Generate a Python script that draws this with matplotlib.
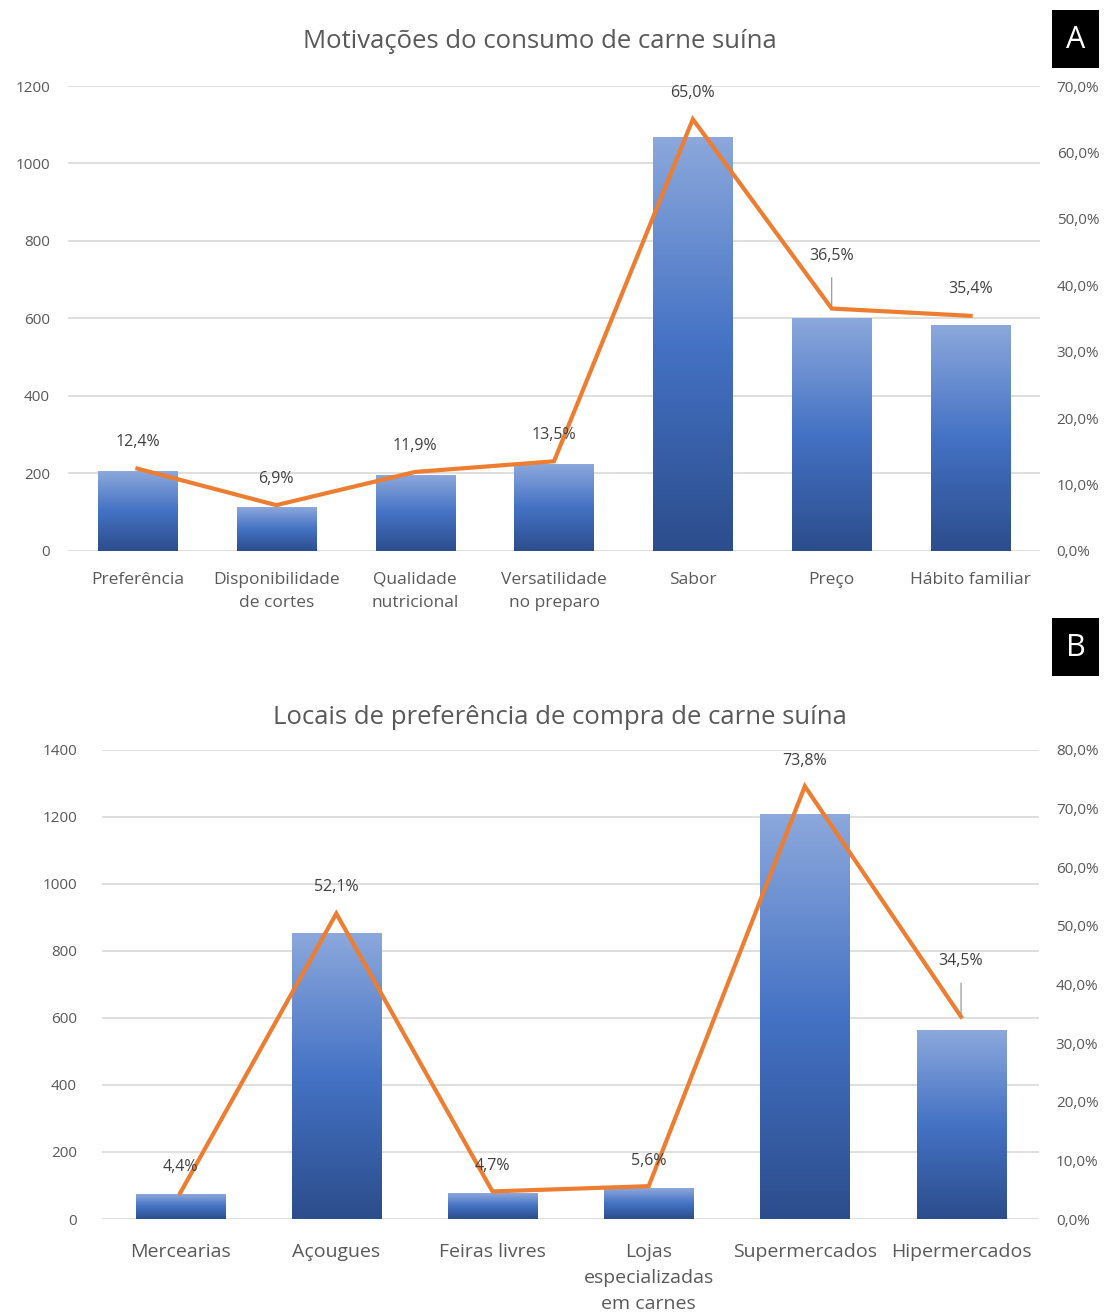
import numpy as np
import matplotlib
matplotlib.use("Agg")
import matplotlib.pyplot as plt
from matplotlib.colors import LinearSegmentedColormap

plt.rcParams['font.family'] = ['Open Sans', 'DejaVu Sans']

# --- data: painel A (motivações) ---
mot_cats = ["Preferência", "Disponibilidade\nde cortes", "Qualidade\nnutricional",
            "Versatilidade\nno preparo", "Sabor", "Preço", "Hábito familiar"]
mot_n = [204, 113, 196, 222, 1068, 600, 582]
mot_pct = [12.4, 6.9, 11.9, 13.5, 65.0, 36.5, 35.4]

# --- data: painel B (locais de compra) ---
loc_cats = ["Mercearias", "Açougues", "Feiras livres",
            "Lojas\nespecializadas\nem carnes", "Supermercados", "Hipermercados"]
loc_n = [72, 851, 77, 92, 1206, 564]
loc_pct = [4.4, 52.1, 4.7, 5.6, 73.8, 34.5]

# label offsets (points above the line); larger ones get a leader line
mot_off = [19, 19, 19, 19, 19, 38, 19]
loc_off = [19, 19, 18, 18, 18, 40]

GREY = "#595959"
ORANGE = "#ED7D31"
bar_cmap = LinearSegmentedColormap.from_list("excel_blue", ["#2c4d8c", "#4472c4", "#8ca8dc"])


def fmt_pct(v):
    return ("%.1f%%" % v).replace(".", ",")


def panel(ax, cats, counts, pcts, offs, ymax, ystep, pmax, cat_size, pad_l, pad_x):
    x = np.arange(len(cats))
    w = 0.57
    grad = np.linspace(1, 0, 256).reshape(-1, 1)
    for xi, h in zip(x, counts):
        ax.imshow(grad, extent=(xi - w / 2, xi + w / 2, 0, h), aspect='auto',
                  cmap=bar_cmap, vmin=0, vmax=1, origin='upper', zorder=2)
    ax.set_xlim(-0.5, len(cats) - 0.5)
    ax.set_ylim(0, ymax)
    ax.set_yticks(np.arange(0, ymax + 1, ystep))
    ax.yaxis.grid(True, color="#d9d9d9", lw=1.2)
    ax.set_axisbelow(True)
    ax.set_xticks(x)
    ax.set_xticklabels(cats, fontsize=cat_size, color=GREY, linespacing=1.6)
    ax.tick_params(axis='x', length=0, pad=pad_x)
    ax.tick_params(axis='y', length=0, pad=pad_l, labelsize=11, labelcolor=GREY)
    for s in ax.spines.values():
        s.set_visible(False)

    ax2 = ax.twinx()
    ax2.plot(x, pcts, color=ORANGE, lw=3, solid_joinstyle='miter', zorder=3)
    ax2.set_ylim(0, pmax)
    ax2.set_yticks(np.arange(0, pmax + 1, 10))
    ax2.set_yticklabels([fmt_pct(v) for v in np.arange(0, pmax + 1, 10)])
    ax2.tick_params(axis='y', length=0, pad=12, labelsize=11, labelcolor=GREY)
    for s in ax2.spines.values():
        s.set_visible(False)
    for xi, p, o in zip(x, pcts, offs):
        if o > 25:
            ax2.annotate(fmt_pct(p), (xi, p), xytext=(0, o), textcoords='offset points',
                         ha='center', va='center', fontsize=11.5, color="#404040",
                         arrowprops=dict(arrowstyle='-', color="#8c8c8c", lw=0.8,
                                         shrinkA=8, shrinkB=2))
        else:
            ax2.annotate(fmt_pct(p), (xi, p), xytext=(0, o), textcoords='offset points',
                         ha='center', va='center', fontsize=11.5, color="#404040")
    return ax2


fig = plt.figure(figsize=(11.09, 13.15), dpi=100)

axA = fig.add_axes([0.0613, 0.581, 0.8765, 0.3536])
panel(axA, mot_cats, mot_n, mot_pct, mot_off, 1200, 200, 70, 12.5, 13, 15)
fig.text(0.487, 1 - 42 / 1315, "Motivações do consumo de carne suína",
         ha='center', va='center', fontsize=18.5, color=GREY)

axB = fig.add_axes([0.092, 0.073, 0.845, 0.3567])
panel(axB, loc_cats, loc_n, loc_pct, loc_off, 1400, 200, 80, 14, 18, 17)
fig.text(0.505, 1 - 718 / 1315, "Locais de preferência de compra de carne suína",
         ha='center', va='center', fontsize=18.5, color=GREY)

# panel letters
for letter, ytop in (("A", 10), ("B", 618)):
    fig.patches.append(plt.Rectangle((1052 / 1109, 1 - (ytop + 58) / 1315), 47 / 1109, 58 / 1315,
                                     transform=fig.transFigure, facecolor="black",
                                     edgecolor="none"))
    fig.text(1075.5 / 1109, 1 - (ytop + 30) / 1315, letter, ha='center', va='center',
             fontsize=22, color="white")

fig.savefig("out.png", dpi=100, facecolor="white")
